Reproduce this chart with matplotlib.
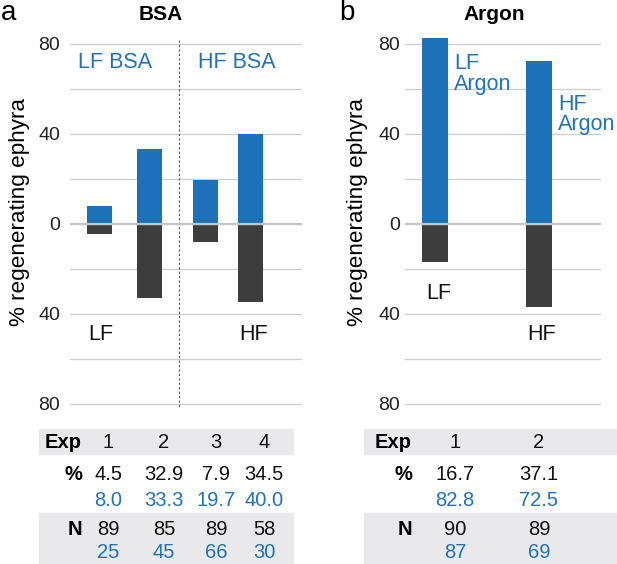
import matplotlib
matplotlib.use("Agg")
import matplotlib.pyplot as plt
from matplotlib.patches import Rectangle

plt.rcParams['font.family'] = ['Liberation Sans', 'DejaVu Sans']

# ---------------- data ----------------
bsa_exp = ['1', '2', '3', '4']
bsa_control_pct = [4.5, 32.9, 7.9, 34.5]     # black (LF / HF, below zero)
bsa_treated_pct = [8.0, 33.3, 19.7, 40.0]    # blue (LF BSA / HF BSA)
bsa_control_n = [89, 85, 89, 58]
bsa_treated_n = [25, 45, 66, 30]

argon_exp = ['1', '2']
argon_control_pct = [16.7, 37.1]
argon_treated_pct = [82.8, 72.5]
argon_control_n = [90, 89]
argon_treated_n = [87, 69]

ytick_vals = [-80, -40, 0, 40, 80]
ytick_labels = ['80', '40', '0', '40', '80']

BLUE = '#1d71b8'
TBLUE = '#2272b6'
DARK = '#3d3d3d'
GRID = '#cdcdcd'
BAND = '#e9e9eb'

W, H = 617, 564
fig = plt.figure(figsize=(W / 100, H / 100), dpi=100)


def fx(x):
    return x / W


def fy(y):
    return 1 - y / H


def make_axes(left, right, top=30, bottom=410):
    return fig.add_axes([fx(left), fy(bottom), (right - left) / W, (bottom - top) / H])


def style_axes(ax, pad):
    for s in ax.spines.values():
        s.set_visible(False)
    ax.set_ylim(-82.67, 86.2)
    ax.set_yticks(ytick_vals)
    ax.set_yticklabels(ytick_labels)
    ax.tick_params(axis='y', length=0, pad=pad, labelsize=14, colors='#222222')
    ax.set_xticks([])
    for g in range(-80, 81, 20):
        ax.axhline(g, color=GRID, lw=0.9, zorder=0 if g != 0 else 3)
    ax.axhline(0, color='#c4c4c4', lw=1.6, zorder=3)


# ---------------- panel a ----------------
axa = make_axes(70, 302)
xa = [0, 1, 2.1, 3.0]
axa.bar(xa, bsa_treated_pct, width=0.5, color=BLUE, zorder=2)
axa.bar(xa, [-v for v in bsa_control_pct], width=0.5, color=DARK, zorder=2)
axa.set_xlim(-0.586, 4.026)
style_axes(axa, 7)
axa.plot([1.58, 1.58], [81.8, -81.5], ls=(0, (2, 2)), color='#555555', lw=0.8, zorder=1)

# ---------------- panel b ----------------
axb = make_axes(405, 601)
xb = [0, 1]
axb.bar(xb, argon_treated_pct, width=0.249, color=BLUE, zorder=2)
axb.bar(xb, [-v for v in argon_control_pct], width=0.249, color=DARK, zorder=2)
axb.set_xlim(-0.287, 1.589)
style_axes(axb, 3.5)

# ---------------- titles, labels ----------------
fig.text(fx(1), fy(20.5), 'a', fontsize=20, va='baseline', ha='left')
fig.text(fx(339), fy(20.5), 'b', fontsize=20, va='baseline', ha='left')
fig.text(fx(161), fy(20), 'BSA', fontsize=15, fontweight='bold', va='baseline', ha='center')
fig.text(fx(494.5), fy(20), 'Argon', fontsize=15, fontweight='bold', va='baseline', ha='center')
fig.text(fx(20), fy(212), '% regenerating ephyra', fontsize=16.2, rotation=90, va='center', ha='center')
fig.text(fx(357), fy(212), '% regenerating ephyra', fontsize=16.2, rotation=90, va='center', ha='center')

ann = dict(fontsize=15.5, va='baseline', ha='left')
fig.text(fx(78), fy(68), 'LF BSA', color=TBLUE, **ann)
fig.text(fx(198), fy(68), 'HF BSA', color=TBLUE, **ann)
fig.text(fx(88), fy(340), 'LF', color='#111111', **ann)
fig.text(fx(239), fy(340), 'HF', color='#111111', **ann)
fig.text(fx(454), fy(69), 'LF', color=TBLUE, **ann)
fig.text(fx(454), fy(90.5), 'Argon', color=TBLUE, **ann)
fig.text(fx(558), fy(110), 'HF', color=TBLUE, **ann)
fig.text(fx(558), fy(130), 'Argon', color=TBLUE, **ann)
fig.text(fx(426), fy(299), 'LF', color='#111111', **ann)
fig.text(fx(527), fy(340), 'HF', color='#111111', **ann)


# ---------------- tables ----------------
def band(x0, x1, y0, y1):
    fig.patches.append(Rectangle((fx(x0), fy(y1)), (x1 - x0) / W, (y1 - y0) / H,
                                 transform=fig.transFigure, color=BAND, zorder=0))


def table(x0, x1, label_right, cols, exps, ctrl_pct, trt_pct, ctrl_n, trt_n):
    band(x0, x1, 429, 454)
    band(x0, x1, 513, 564)
    ts = 14.5
    fig.text(fx(label_right), fy(448.5), 'Exp', fontsize=ts, fontweight='bold', ha='right', va='baseline')
    fig.text(fx(label_right), fy(480), '%', fontsize=ts, fontweight='bold', ha='right', va='baseline')
    fig.text(fx(label_right), fy(535), 'N', fontsize=ts, fontweight='bold', ha='right', va='baseline')
    for cx, e, cp, tp, cn, tn in zip(cols, exps, ctrl_pct, trt_pct, ctrl_n, trt_n):
        fig.text(fx(cx), fy(448.5), e, fontsize=ts, ha='center', va='baseline', color='#111111')
        fig.text(fx(cx), fy(480), f'{cp:.1f}', fontsize=ts, ha='center', va='baseline', color='#111111')
        fig.text(fx(cx), fy(505.5), f'{tp:.1f}', fontsize=ts, ha='center', va='baseline', color=TBLUE)
        fig.text(fx(cx), fy(535), f'{cn}', fontsize=ts, ha='center', va='baseline', color='#111111')
        fig.text(fx(cx), fy(557.5), f'{tn}', fontsize=ts, ha='center', va='baseline', color=TBLUE)


table(39, 293, 82, [108, 164, 216, 264], bsa_exp, bsa_control_pct, bsa_treated_pct,
      bsa_control_n, bsa_treated_n)
table(364, 617, 412, [455, 539], argon_exp, argon_control_pct, argon_treated_pct,
      argon_control_n, argon_treated_n)

fig.savefig('out.png', dpi=100)
